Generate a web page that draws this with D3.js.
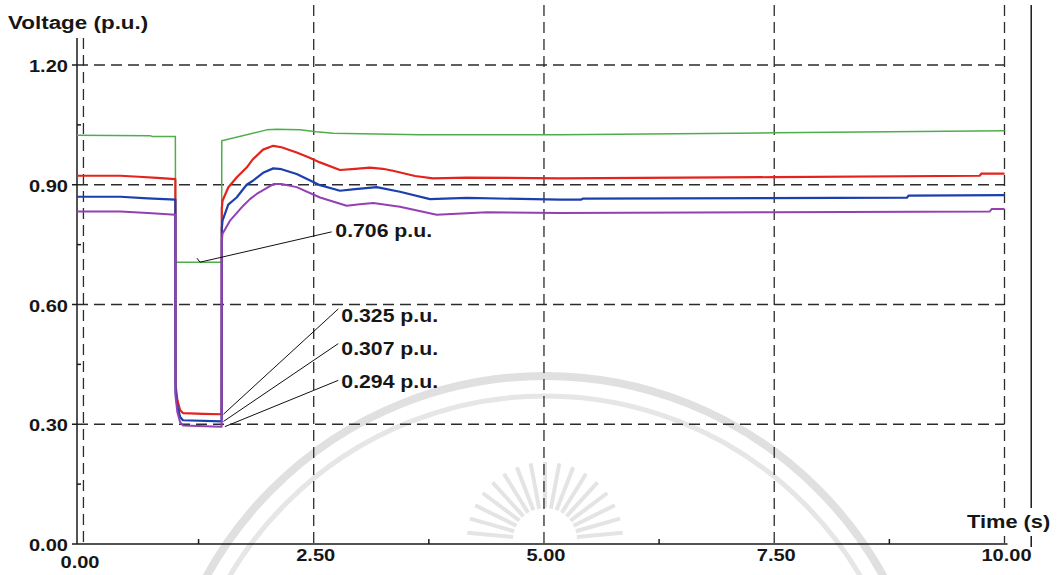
<!DOCTYPE html>
<html>
<head>
<meta charset="utf-8">
<script src="https://cdn.jsdelivr.net/npm/d3@7/dist/d3.min.js"></script>
<style>
  html, body { margin: 0; padding: 0; background: #fff; }
  svg { display: block; }
  text { font-family: "Liberation Sans", Arial, sans-serif; font-weight: bold; fill: #161616; }
</style>
</head>
<body>
<svg id="chart" width="1059" height="575"></svg>
<script>
// Bus voltage response to a fault applied at 1.0 s and cleared at 1.5 s.
// Each series is a list of [time (s), voltage (p.u.)] samples.
const greenPts = [
  [-0.07, 1.024], [0.72, 1.023], [0.75, 1.021], [0.998, 1.021],
  [1.0, 0.706], [1.5, 0.706],
  [1.502, 1.01], [1.99, 1.0375], [2.1, 1.039], [2.35, 1.0375], [2.53, 1.0325],
  [2.71, 1.029], [3.65, 1.025], [5.17, 1.025], [7.5, 1.03], [10.0, 1.035]
];
const redPts = [
  [-0.07, 0.9225], [0.4, 0.9225], [0.6, 0.92], [0.8, 0.917], [0.998, 0.914],
  [1.0, 0.40], [1.02, 0.36], [1.05, 0.335], [1.08, 0.328], [1.3, 0.326], [1.5, 0.325],
  [1.502, 0.84], [1.51, 0.86], [1.572, 0.893], [1.663, 0.918], [1.772, 0.943],
  [1.84, 0.964], [1.95, 0.988], [2.061, 0.9975], [2.15, 0.994], [2.315, 0.981],
  [2.45, 0.968], [2.568, 0.956], [2.785, 0.937], [2.95, 0.94], [3.11, 0.943],
  [3.25, 0.94], [3.36, 0.935], [3.6, 0.922], [3.795, 0.916], [4.164, 0.918],
  [5.17, 0.916], [7.5, 0.919], [9.73, 0.9225], [9.75, 0.928], [10.0, 0.928]
];
const bluePts = [
  [-0.07, 0.87], [0.4, 0.87], [0.7, 0.866], [0.998, 0.8625],
  [1.0, 0.38], [1.02, 0.345], [1.05, 0.318], [1.08, 0.31], [1.5, 0.307],
  [1.502, 0.79], [1.51, 0.81], [1.572, 0.85], [1.663, 0.868], [1.772, 0.90],
  [1.84, 0.91], [1.95, 0.93], [2.061, 0.941], [2.15, 0.939], [2.315, 0.927],
  [2.568, 0.899], [2.785, 0.885], [2.95, 0.889], [3.183, 0.894], [3.436, 0.8825],
  [3.762, 0.864], [4.164, 0.867], [5.17, 0.8625], [5.4, 0.8625], [5.42, 0.865],
  [8.94, 0.8675], [8.96, 0.873], [10.0, 0.874]
];
const purplePts = [
  [-0.07, 0.833], [0.4, 0.833], [0.7, 0.829], [0.998, 0.825],
  [1.0, 0.37], [1.02, 0.33], [1.05, 0.305], [1.08, 0.297], [1.5, 0.294],
  [1.502, 0.76], [1.51, 0.777], [1.591, 0.81], [1.735, 0.8475], [1.808, 0.864],
  [1.881, 0.877], [2.068, 0.902], [2.15, 0.902], [2.315, 0.894], [2.568, 0.868],
  [2.858, 0.8475], [3.0, 0.851], [3.147, 0.854], [3.436, 0.845], [3.835, 0.825],
  [4.378, 0.831], [5.17, 0.829], [7.5, 0.831], [9.84, 0.833], [9.86, 0.839], [10.0, 0.839]
];

const seriesNames  = ["green", "red", "blue", "purple"];
const seriesColors = ["#4fae4a", "#e4231c", "#1b3fae", "#9440b4"];
const seriesWidths = [1.5, 2.2, 2.2, 2.0];
const seriesData   = [greenPts, redPts, bluePts, purplePts];

const xTicks = [0, 2.5, 5, 7.5, 10];
const xMinorTicks = [1.25, 3.75, 6.25, 8.75];
const yTicks = [0, 0.3, 0.6, 0.9, 1.2];
const yMinorTicks = [0.15, 0.45, 0.75, 1.05];

// Callouts: value, [time, voltage] on the curve, [time, voltage] at the text end of the leader,
// and [time, voltage] of the text baseline start.
const calloutValues = [0.706, 0.325, 0.307, 0.294];
const calloutPoint  = [[1.265, 0.706], [1.52, 0.325], [1.52, 0.307], [1.535, 0.294]];
const calloutLeader = [[2.695, 0.782], [2.767, 0.589], [2.767, 0.502], [2.767, 0.41]];
const calloutText   = [[2.735, 0.768], [2.80, 0.556], [2.80, 0.473], [2.80, 0.39]];

const svg = d3.select("#chart");
const SX = 1.18; // horizontal stretch of the lettering

const x = d3.scaleLinear().domain([-0.07, 10]).range([77, 1004.5]);
const y = d3.scaleLinear().domain([0, 1.2]).range([544, 65]);
const tAxis = -0.07, tRight = 10.29;
const vTop = y.invert(5), vAxisTop = y.invert(38);

// faint background emblem
const wm = svg.append("g").attr("fill", "none");
wm.append("circle").attr("cx", 545).attr("cy", 762).attr("r", 386)
  .attr("stroke", "#e0e0e0").attr("stroke-width", 8);
wm.append("circle").attr("cx", 545).attr("cy", 762).attr("r", 366)
  .attr("stroke", "#e6e6e6").attr("stroke-width", 5);
d3.range(17).forEach(i => {
  const a = Math.PI + (i + 0.5) * Math.PI / 17;
  wm.append("line")
    .attr("x1", 545 + 32 * Math.cos(a)).attr("y1", 540 + 32 * Math.sin(a))
    .attr("x2", 545 + 78 * Math.cos(a)).attr("y2", 540 + 78 * Math.sin(a))
    .attr("stroke", "#e4e4e4").attr("stroke-width", 4);
});

function txt(str, px, py, size, anchor) {
  return svg.append("text")
    .attr("transform", `translate(${px},${py}) scale(${SX},1)`)
    .attr("text-anchor", anchor || "start")
    .style("font-size", size + "px")
    .text(str);
}

const dash = "11,6";
const grid = svg.append("g").attr("stroke", "#2b2b2b").attr("stroke-width", 1.3)
  .attr("stroke-dasharray", dash).attr("fill", "none");

// horizontal grid
yTicks.filter(v => v > 0).forEach(v => {
  grid.append("line").attr("x1", x(tAxis)).attr("x2", x(10))
    .attr("y1", y(v)).attr("y2", y(v));
});
// vertical grid
xTicks.forEach(t => {
  grid.append("line").attr("x1", x(t)).attr("x2", x(t))
    .attr("y1", y(t === 0 ? vAxisTop : vTop)).attr("y2", y(0));
});

// axes
const ax = svg.append("g").attr("stroke", "#1a1a1a").attr("stroke-width", 1.5).attr("fill", "none");
ax.append("line").attr("x1", x(tAxis)).attr("x2", x(tAxis)).attr("y1", y(vAxisTop)).attr("y2", y(0));
ax.append("line").attr("x1", x(tAxis)).attr("x2", x(10) + 3).attr("y1", y(0)).attr("y2", y(0));
ax.append("line").attr("x1", x(tRight)).attr("x2", x(tRight)).attr("y1", y(vTop)).attr("y2", y(0) + 3);
yTicks.forEach(v => ax.append("line").attr("x1", x(tAxis) - 5).attr("x2", x(tAxis)).attr("y1", y(v)).attr("y2", y(v)));
yMinorTicks.forEach(v => ax.append("line").attr("x1", x(tAxis)).attr("x2", x(tAxis) + 4).attr("y1", y(v)).attr("y2", y(v)));
xMinorTicks.forEach(t => ax.append("line").attr("x1", x(t)).attr("x2", x(t)).attr("y1", y(0)).attr("y2", y(0) - 5));

// series
const line = d3.line().x(d => x(d[0])).y(d => y(d[1]));
seriesData.forEach((pts, i) => {
  svg.append("path").datum(pts)
    .attr("class", "series " + seriesNames[i])
    .attr("d", line)
    .attr("fill", "none")
    .attr("stroke", seriesColors[i])
    .attr("stroke-width", seriesWidths[i])
    .attr("stroke-linejoin", "round");
});

// callouts
calloutValues.forEach((v, i) => {
  const p = calloutPoint[i], q = calloutLeader[i], tt = calloutText[i];
  svg.append("line").attr("x1", x(p[0])).attr("y1", y(p[1]))
    .attr("x2", x(q[0])).attr("y2", y(q[1]))
    .attr("stroke", "#111").attr("stroke-width", 1);
  txt(d3.format(".3f")(v) + " p.u.", x(tt[0]), y(tt[1]), 18);
});
// small hook on the 0.706 leader
svg.append("path")
  .attr("d", `M${x(calloutPoint[0][0]) - 3},${y(calloutPoint[0][1]) - 4}L${x(calloutPoint[0][0])},${y(calloutPoint[0][1])}`)
  .attr("stroke", "#111").attr("stroke-width", 1).attr("fill", "none");

// tick labels
const fmt = d3.format(".2f");
yTicks.forEach(v => txt(fmt(v), 68, y(v) + 7, 17, "end"));
xTicks.forEach(t => txt(fmt(t), t === 0 ? 80 : x(t) + 2, t === 0 ? 568 : 561, 17, "middle"));

// axis titles
txt("Voltage (p.u.)", 8, 29, 19);
svg.append("rect").attr("x", 963).attr("y", 508).attr("width", 89).attr("height", 28).attr("fill", "#fff");
txt("Time (s)", 967, 528, 18.5);
</script>
</body>
</html>
